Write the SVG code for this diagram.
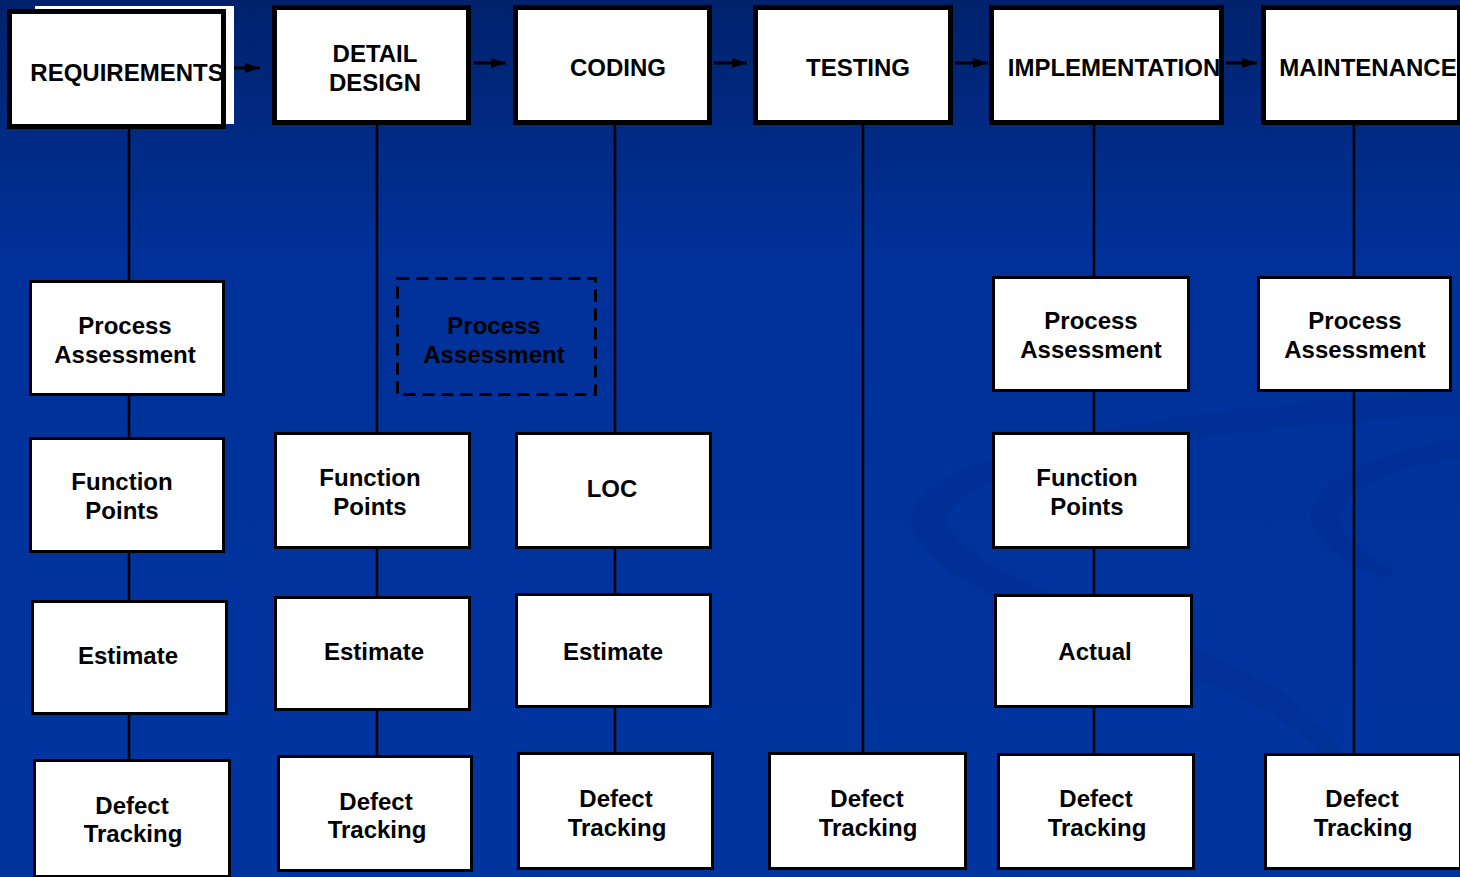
<svg xmlns="http://www.w3.org/2000/svg" width="1460" height="877" viewBox="0 0 1460 877">
  <defs>
    <linearGradient id="bg" x1="0" y1="0" x2="0" y2="1">
      <stop offset="0" stop-color="#00226c"/>
      <stop offset="0.3" stop-color="#00319a"/>
      <stop offset="1" stop-color="#0035a0"/>
    </linearGradient>
    <marker id="arrow" viewBox="0 0 15 10" refX="15" refY="5" markerWidth="15" markerHeight="10" markerUnits="userSpaceOnUse" orient="auto">
      <path d="M0,0 L15,5 L0,10 Z" fill="#000"/>
    </marker>
    <style>
      .phase rect { fill: #fff; stroke: #000; stroke-width: 5; }
      .box rect { fill: #fff; stroke: #000; stroke-width: 3; }
      .dashed rect { fill: none; stroke: #000; stroke-width: 3; stroke-dasharray: 12 7; }
      text { font-family: "Liberation Sans", Arial, sans-serif; font-weight: bold; font-size: 24px; text-anchor: middle; fill: #000; }
      .link { stroke: #000; stroke-width: 2.5; fill: none; }
      .flow { stroke: #000; stroke-width: 3; fill: none; marker-end: url(#arrow); }
      .swirl { fill: #002a86; opacity: 0.28; }
    </style>
  </defs>

  <!-- background -->
  <rect x="0" y="0" width="1460" height="877" fill="url(#bg)"/>
  <path class="swirl" d="M1460,392 C1200,405 960,440 915,505 C885,570 1050,620 1200,680 C1300,720 1345,760 1332,810 L1348,810 C1362,750 1310,700 1222,660 C1080,600 930,560 950,510 C990,460 1200,430 1460,414 Z"/>
  <path class="swirl" d="M1460,438 C1380,452 1318,478 1312,510 C1308,540 1340,560 1382,578 L1398,572 C1352,550 1334,530 1344,505 C1360,480 1410,465 1460,458 Z"/>

  <!-- connectors -->
  <g id="connectors">
    <line class="flow" x1="229" y1="68" x2="260" y2="68"/>
    <line class="flow" x1="474" y1="63" x2="506" y2="63"/>
    <line class="flow" x1="714" y1="63" x2="747" y2="63"/>
    <line class="flow" x1="955" y1="63" x2="988" y2="63"/>
    <line class="flow" x1="1226" y1="63" x2="1257" y2="63"/>
    <line class="link" x1="129" y1="128" x2="129" y2="760"/>
    <line class="link" x1="377" y1="124" x2="377" y2="756"/>
    <line class="link" x1="615" y1="124" x2="615" y2="753"/>
    <line class="link" x1="863" y1="124" x2="863" y2="753"/>
    <line class="link" x1="1094" y1="124" x2="1094" y2="754"/>
    <line class="link" x1="1354" y1="124" x2="1354" y2="754"/>
  </g>

  <!-- phase boxes -->
  <g id="requirements" class="phase">
    <rect x="35" y="6" width="199" height="118" style="stroke:none"/>
    <rect x="9.5" y="11.5" width="214" height="115"/>
    <text x="127" y="81">REQUIREMENTS</text>
  </g>
  <g id="detail-design" class="phase">
    <rect x="274.5" y="7.5" width="194" height="115"/>
    <text x="375" y="62">DETAIL</text>
    <text x="375" y="91">DESIGN</text>
  </g>
  <g id="coding" class="phase">
    <rect x="515.5" y="7.5" width="194" height="115"/>
    <text x="618" y="76">CODING</text>
  </g>
  <g id="testing" class="phase">
    <rect x="755.5" y="7.5" width="195" height="115"/>
    <text x="858" y="76">TESTING</text>
  </g>
  <g id="implementation" class="phase">
    <rect x="991.5" y="7.5" width="230" height="115"/>
    <text x="1114" y="76">IMPLEMENTATION</text>
  </g>
  <g id="maintenance" class="phase">
    <rect x="1263.5" y="7.5" width="196" height="115"/>
    <text x="1368" y="76">MAINTENANCE</text>
  </g>

  <!-- requirements column -->
  <g id="req-process" class="box">
    <rect x="30.5" y="281.5" width="193" height="113"/>
    <text x="125" y="334">Process</text>
    <text x="125" y="363">Assessment</text>
  </g>
  <g id="req-fp" class="box">
    <rect x="30.5" y="438.5" width="193" height="113"/>
    <text x="122" y="490">Function</text>
    <text x="122" y="519">Points</text>
  </g>
  <g id="req-estimate" class="box">
    <rect x="32.5" y="601.5" width="194" height="112"/>
    <text x="128" y="664">Estimate</text>
  </g>
  <g id="req-defect" class="box">
    <rect x="34.5" y="760.5" width="195" height="116"/>
    <text x="132" y="814">Defect</text>
    <text x="133" y="842">Tracking</text>
  </g>

  <!-- detail design column -->
  <g id="dd-process" class="dashed">
    <rect x="397.5" y="278.5" width="198" height="116"/>
    <text x="494" y="334">Process</text>
    <text x="494" y="363">Assessment</text>
  </g>
  <g id="dd-fp" class="box">
    <rect x="275.5" y="433.5" width="194" height="114"/>
    <text x="370" y="486">Function</text>
    <text x="370" y="515">Points</text>
  </g>
  <g id="dd-estimate" class="box">
    <rect x="275.5" y="597.5" width="194" height="112"/>
    <text x="374" y="660">Estimate</text>
  </g>
  <g id="dd-defect" class="box">
    <rect x="278.5" y="756.5" width="193" height="114"/>
    <text x="376" y="810">Defect</text>
    <text x="377" y="838">Tracking</text>
  </g>

  <!-- coding column -->
  <g id="code-loc" class="box">
    <rect x="516.5" y="433.5" width="194" height="114"/>
    <text x="612" y="497">LOC</text>
  </g>
  <g id="code-estimate" class="box">
    <rect x="516.5" y="594.5" width="194" height="112"/>
    <text x="613" y="660">Estimate</text>
  </g>
  <g id="code-defect" class="box">
    <rect x="518.5" y="753.5" width="194" height="115"/>
    <text x="616" y="807">Defect</text>
    <text x="617" y="836">Tracking</text>
  </g>

  <!-- testing column -->
  <g id="test-defect" class="box">
    <rect x="769.5" y="753.5" width="196" height="115"/>
    <text x="867" y="807">Defect</text>
    <text x="868" y="836">Tracking</text>
  </g>

  <!-- implementation column -->
  <g id="impl-process" class="box">
    <rect x="993.5" y="277.5" width="195" height="113"/>
    <text x="1091" y="329">Process</text>
    <text x="1091" y="358">Assessment</text>
  </g>
  <g id="impl-fp" class="box">
    <rect x="993.5" y="433.5" width="195" height="114"/>
    <text x="1087" y="486">Function</text>
    <text x="1087" y="515">Points</text>
  </g>
  <g id="impl-actual" class="box">
    <rect x="995.5" y="595.5" width="196" height="111"/>
    <text x="1095" y="660">Actual</text>
  </g>
  <g id="impl-defect" class="box">
    <rect x="998.5" y="754.5" width="195" height="114"/>
    <text x="1096" y="807">Defect</text>
    <text x="1097" y="836">Tracking</text>
  </g>

  <!-- maintenance column -->
  <g id="maint-process" class="box">
    <rect x="1258.5" y="277.5" width="192" height="113"/>
    <text x="1355" y="329">Process</text>
    <text x="1355" y="358">Assessment</text>
  </g>
  <g id="maint-defect" class="box">
    <rect x="1265.5" y="754.5" width="195" height="114"/>
    <text x="1362" y="807">Defect</text>
    <text x="1363" y="836">Tracking</text>
  </g>
</svg>
